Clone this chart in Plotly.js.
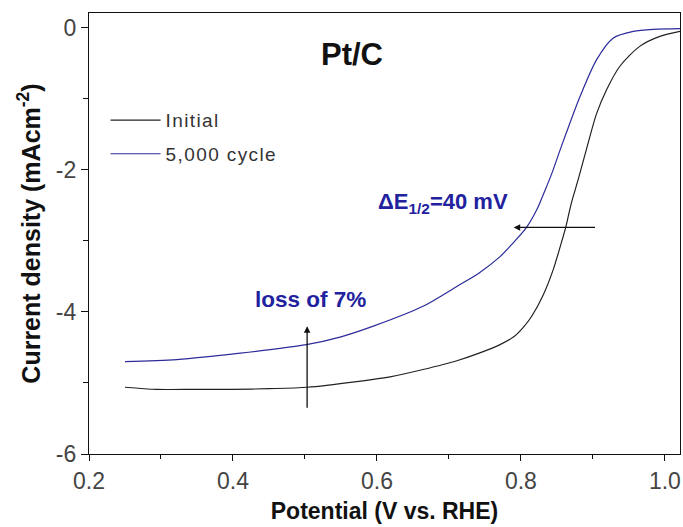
<!DOCTYPE html>
<html>
<head>
<meta charset="utf-8">
<script src="https://cdn.plot.ly/plotly-3.0.1.min.js"></script>
<style>
html,body{margin:0;padding:0;background:#fff;}
#chart{width:683px;height:527px;}
.legendtext{letter-spacing:1.4px;}
</style>
</head>
<body>
<div id="chart"></div>
<script>
// Initial curve
const initialPotential = [0.25, 0.294, 0.35, 0.40, 0.45, 0.503, 0.572, 0.62, 0.664, 0.71, 0.742, 0.771, 0.790, 0.803, 0.815, 0.831, 0.845, 0.854, 0.862, 0.870, 0.880, 0.891, 0.905, 0.919, 0.9375, 0.965, 0.993, 1.021];
const initialCurrent   = [-5.06, -5.09, -5.09, -5.09, -5.08, -5.06, -4.98, -4.91, -4.81, -4.69, -4.58, -4.46, -4.35, -4.22, -4.06, -3.76, -3.40, -3.10, -2.82, -2.47, -2.12, -1.71, -1.21, -0.87, -0.54, -0.26, -0.12, -0.05];
// 5,000 cycle curve
const cyclePotential = [0.25, 0.322, 0.41, 0.502, 0.55, 0.595, 0.664, 0.711, 0.742, 0.771, 0.789, 0.807, 0.822, 0.833, 0.844, 0.853, 0.863, 0.882, 0.905, 0.928, 0.956, 0.984, 1.021];
const cycleCurrent   = [-4.70, -4.67, -4.58, -4.46, -4.35, -4.20, -3.92, -3.64, -3.45, -3.22, -3.03, -2.82, -2.56, -2.30, -2.02, -1.76, -1.48, -0.97, -0.45, -0.145, -0.05, -0.02, -0.01];

const seriesNames = ["Initial", "5,000 cycle"];
const xTicks = [0.2, 0.4, 0.6, 0.8, 1.0];
const xTickLabels = ["0.2", "0.4", "0.6", "0.8", "1.0"];
const yTicks = [0, -2, -4, -6];
const yTickLabels = ["0", "-2", "-4", "-6"];

// annotation anchors (data units)
const halfWaveArrow = {head: [0.79, -2.81], tail: [0.905, -2.81]};
const lossArrow = {head: [0.503, -4.20], tail: [0.503, -5.37]};

const blue = "#22229e";
const traces = [
  {x: initialPotential, y: initialCurrent, name: seriesNames[0], mode: "lines",
   line: {color: "#222222", width: 1.2, shape: "spline", smoothing: 0.8}, legendgroup: "a"},
  {x: cyclePotential, y: cycleCurrent, name: seriesNames[1], mode: "lines",
   line: {color: "#2b2b9a", width: 1.2, shape: "spline", smoothing: 0.8}, legendgroup: "b"}
];

const ff = "Liberation Sans, Arial, sans-serif";
const tickFont = {family: ff, size: 23, color: "#444"};
const titleFont = {family: ff, size: 23, color: "#111", weight: "bold"};

const layout = {
  width: 683, height: 527,
  margin: {l: 89, r: 3, t: 13, b: 73},
  paper_bgcolor: "#fff", plot_bgcolor: "#fff",
  showlegend: true,
  legend: {x: 0.028, y: 0.80, xanchor: "left", yanchor: "top", bgcolor: "rgba(0,0,0,0)",
           font: {family: ff, size: 19, color: "#333"},
           tracegroupgap: 6, itemwidth: 50},
  xaxis: {range: [0.2, 1.021], tickvals: xTicks, ticktext: xTickLabels, ticks: "outside", ticklen: 6,
          tickcolor: "#111", tickwidth: 1, showline: true, linecolor: "#111", linewidth: 1.2, mirror: true,
          showgrid: false, zeroline: false, tickfont: tickFont,
          minor: {dtick: 0.1, tick0: 0.2, ticks: "outside", ticklen: 4, tickcolor: "#111", showgrid: false},
          title: {text: "Potential (V vs. RHE)", font: titleFont, standoff: 10}},
  yaxis: {range: [-6, 0.21], tickvals: yTicks, ticktext: yTickLabels, ticks: "outside", ticklen: 7,
          tickcolor: "#111", tickwidth: 1, showline: true, linecolor: "#111", linewidth: 1.2, mirror: true,
          showgrid: false, zeroline: false, tickfont: tickFont,
          minor: {dtick: 1, tick0: 0, ticks: "outside", ticklen: 5, tickcolor: "#111", showgrid: false},
          title: {text: "Current density (mAcm<sup>-2</sup>)", font: {family: ff, size: 25, color: "#111", weight: "bold"}, standoff: 8}},
  annotations: [
    {x: 0.565, y: -0.38, xref: "x", yref: "y", text: "<b>Pt/C</b>", showarrow: false,
     font: {family: ff, size: 31, color: "#111"}},
    {x: 0.692, y: -2.47, xref: "x", yref: "y", text: "<b>ΔE<sub>1/2</sub>=40 mV</b>", showarrow: false,
     font: {family: ff, size: 22, color: blue}},
    {x: 0.507, y: -3.83, xref: "x", yref: "y", text: "<b>loss of 7%</b>", showarrow: false,
     font: {family: ff, size: 22.5, color: blue}},
    {x: halfWaveArrow.head[0], y: halfWaveArrow.head[1], ax: halfWaveArrow.tail[0], ay: halfWaveArrow.tail[1],
     xref: "x", yref: "y", axref: "x", ayref: "y", text: "", showarrow: true,
     arrowhead: 2, arrowsize: 1, arrowwidth: 1.3, arrowcolor: "#111"},
    {x: lossArrow.head[0], y: lossArrow.head[1], ax: lossArrow.tail[0], ay: lossArrow.tail[1],
     xref: "x", yref: "y", axref: "x", ayref: "y", text: "", showarrow: true,
     arrowhead: 2, arrowsize: 1, arrowwidth: 1.3, arrowcolor: "#111"}
  ]
};

Plotly.newPlot("chart", traces, layout, {displayModeBar: false, staticPlot: true});
</script>
</body>
</html>
